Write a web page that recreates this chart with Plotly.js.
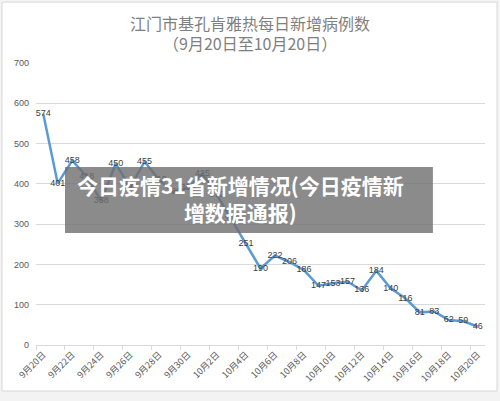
<!DOCTYPE html>
<html>
<head>
<meta charset="utf-8">
<script src="https://cdn.plot.ly/plotly-3.0.1.min.js"></script>
<style>html,body{margin:0;padding:0;background:#f3f3f3;}#chart{width:500px;height:401px;}</style>
</head>
<body>
<div id="chart"></div>
<script>
const dates = ["9月20日","9月21日","9月22日","9月23日","9月24日","9月25日","9月26日","9月27日","9月28日","9月29日","9月30日",
  "10月1日","10月2日","10月3日","10月4日","10月5日","10月6日","10月7日","10月8日","10月9日","10月10日",
  "10月11日","10月12日","10月13日","10月14日","10月15日","10月16日","10月17日","10月18日","10月19日","10月20日"];
const cases = [574,401,458,418,358,450,392,455,410,380,390,
  425,372,311,251,190,222,206,186,147,153,
  157,136,184,140,116,81,83,62,59,46];
const tickIdx = [0,2,4,6,8,10,12,14,16,18,20,22,24,26,28,30];
const titleMain = "江门市基孔肯雅热每日新增病例数";
const titleSub = "（9月20日至10月20日）";
const overlayText = "今日疫情31省新增情况(今日疫情新<br>增数据通报)";

const xs = dates.map((d,i)=>i);
const trace = {
  x: xs, y: cases, type: 'scatter', mode: 'lines+text',
  text: cases.map(String), textposition: 'middle center',
  textfont: {size: 9, color: '#404040', family: 'Liberation Sans, Arial, sans-serif'},
  line: {color: '#5b9bd5', width: 2.5},
  hoverinfo: 'none', cliponaxis: false
};
const layout = {
  width: 500, height: 401,
  margin: {l: 36, r: 15, t: 63, b: 56},
  paper_bgcolor: '#f3f3f3', plot_bgcolor: 'rgba(0,0,0,0)',
  showlegend: false,
  font: {family: 'Liberation Sans, Arial, sans-serif', color: '#595959'},
  xaxis: {
    range: [-0.5, 30.5], tickvals: tickIdx, ticktext: tickIdx.map(i=>dates[i]),
    tickangle: -45, tickfont: {size: 9, color: '#595959', family: 'Noto Sans CJK SC, sans-serif'},
    showgrid: false, zeroline: false, showline: true, linecolor: '#d9d9d9', linewidth: 1,
    ticks: '',
    minor: {tick0: -0.5, dtick: 2, ticks: 'outside', ticklen: 4, tickcolor: '#d9d9d9', showgrid: false}
  },
  yaxis: {
    range: [0, 700], dtick: 100, showgrid: true, gridcolor: '#d9d9d9', gridwidth: 1,
    zeroline: false, showline: false, tickfont: {size: 9, color: '#595959'}, ticklen: 0,
    ticklabelstandoff: 6
  },
  shapes: [
    {type: 'rect', xref: 'paper', yref: 'paper', x0: -0.0757, x1: 1.0267, y0: -0.163, y1: 1.216,
     fillcolor: '#ffffff', line: {color: '#d9d9d9', width: 1}, layer: 'below'},
    {type: 'rect', xref: 'paper', yref: 'paper', x0: 0.0646, x1: 0.884, y0: 0.397, y1: 0.631,
     fillcolor: 'rgba(110,110,110,0.8)', line: {width: 0}, layer: 'above'}
  ],
  annotations: [
    {text: titleMain, xref: 'paper', yref: 'paper', x: 0.4766, y: 1.142, showarrow: false,
     xanchor: 'center', yanchor: 'middle', font: {size: 16, color: '#7f7f7f', family: 'Noto Sans CJK SC, sans-serif'}},
    {text: titleSub, xref: 'paper', yref: 'paper', x: 0.4766, y: 1.071, showarrow: false,
     xanchor: 'center', yanchor: 'middle', font: {size: 16, color: '#7f7f7f', family: 'Noto Sans CJK SC, sans-serif'}},
    {text: overlayText, xref: 'paper', yref: 'paper', x: 0.456, y: 0.518, showarrow: false,
     xanchor: 'center', yanchor: 'middle', align: 'center',
     font: {size: 21, color: '#ffffff', family: 'Noto Sans CJK SC, sans-serif', weight: 'bold'}}
  ]
};
Plotly.newPlot('chart', [trace], layout, {staticPlot: true, displayModeBar: false});
</script>
</body>
</html>
